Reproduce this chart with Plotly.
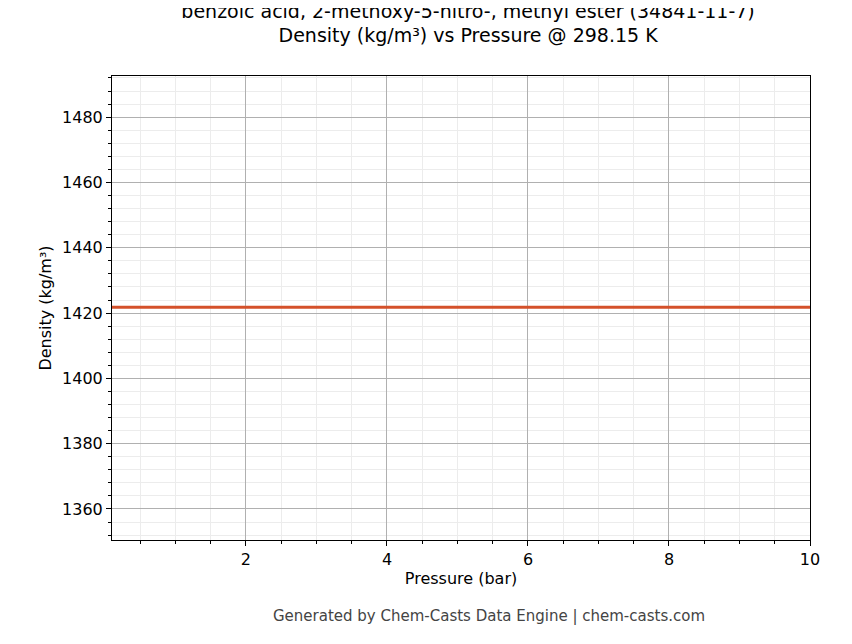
import plotly.graph_objects as go

pressure = [0.1, 1, 2, 3, 4, 5, 6, 7, 8, 9, 10]
density = [1421.8] * len(pressure)

fig = go.Figure(go.Scatter(x=pressure, y=density, mode="lines",
                           line=dict(color="#d4512a", width=3), showlegend=False))

ax = dict(showline=True, linecolor="black", linewidth=1, mirror=True,
          ticks="outside", ticklen=5, tickcolor="black",
          gridcolor="#b0b0b0", gridwidth=0.8, zeroline=False,
          tickfont=dict(size=16, color="black"))
fig.update_xaxes(**ax, range=[0.1, 10], dtick=2, tick0=0,
                 minor=dict(dtick=0.5, tick0=0, ticks="outside", ticklen=3, tickcolor="black",
                            showgrid=True, gridcolor="#ececec", gridwidth=0.6),
                 title=dict(text="Pressure (bar)", font=dict(size=16, color="black"), standoff=4))
fig.update_yaxes(**ax, range=[1350.5, 1492.6], dtick=20, tick0=0,
                 minor=dict(dtick=4, tick0=0, ticks="outside", ticklen=3, tickcolor="black",
                            showgrid=True, gridcolor="#ececec", gridwidth=0.6),
                 title=dict(text="Density (kg/m³)", font=dict(size=16, color="black"), standoff=6))

fig.update_layout(
    width=852, height=644, plot_bgcolor="white", paper_bgcolor="white",
    font=dict(family="DejaVu Sans", color="black"),
    margin=dict(l=104, r=50, t=68, b=112),
    title=dict(text="benzoic acid, 2-methoxy-5-nitro-, methyl ester (34841-11-7)<br>Density (kg/m³) vs Pressure @ 298.15 K",
               x=0.54, xanchor="center", y=0.985, yanchor="top", font=dict(size=19, color="black")),
    annotations=[dict(text="Generated by Chem-Casts Data Engine | chem-casts.com", xref="paper", yref="paper",
                      x=0.54, y=-0.14, xanchor="center", yanchor="top", showarrow=False,
                      font=dict(size=15, color="#444444"))],
)
fig.write_html("out.html")
